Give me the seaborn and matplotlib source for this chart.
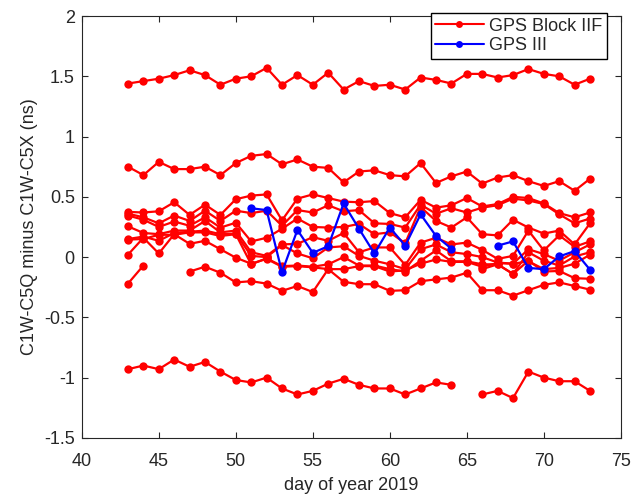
import numpy as np
import pandas as pd
import matplotlib
matplotlib.use('Agg')
import matplotlib.pyplot as plt
import seaborn as sns
from matplotlib.lines import Line2D

# days of year 2019 on the x axis
days = np.arange(43, 74)
nan = np.nan

# GPS Block IIF satellites (ns)
iif_top = [1.44, 1.46, 1.48, 1.51, 1.55, 1.51, 1.43, 1.48, 1.50, 1.57, 1.43, 1.51, 1.43, 1.53, 1.39, 1.46,
           1.42, 1.43, 1.39, 1.49, 1.47, 1.44, 1.52, 1.52, 1.49, 1.51, 1.56, 1.52, 1.50, 1.43, 1.48]
iif_2 = [0.75, 0.68, 0.79, 0.73, 0.73, 0.75, 0.68, 0.78, 0.84, 0.855, 0.77, 0.81, 0.75, 0.74, 0.62, 0.71,
         0.72, 0.68, 0.67, 0.78, 0.615, 0.67, 0.71, 0.61, 0.66, 0.68, 0.63, 0.59, 0.63, 0.55, 0.65]
iif_a = [0.375, 0.37, 0.38, 0.455, 0.35, 0.435, 0.35, 0.48, 0.51, 0.52, 0.305, 0.485, 0.52, 0.49, 0.46, 0.455,
         0.465, 0.365, 0.33, 0.475, 0.41, 0.43, 0.49, 0.42, 0.44, 0.50, 0.49, 0.445, 0.365, 0.33, 0.37]
iif_b = [0.36, 0.33, 0.28, 0.345, 0.30, 0.385, 0.30, 0.385, 0.365, 0.385, 0.26, 0.39, 0.37, 0.43, 0.38, 0.39,
         0.28, 0.275, 0.245, 0.435, 0.36, 0.405, 0.37, 0.41, 0.43, 0.485, 0.47, 0.44, 0.355, 0.28, 0.32]
iif_c = [0.345, 0.31, 0.25, 0.295, 0.26, 0.33, 0.245, 0.285, 0.13, 0.16, 0.235, 0.32, 0.25, 0.245, 0.25, 0.275,
         0.19, 0.205, 0.115, 0.415, 0.30, 0.245, 0.33, 0.19, 0.18, 0.31, 0.245, 0.195, 0.22, 0.105, 0.28]
iif_d = [0.255, 0.20, 0.19, 0.22, 0.22, 0.30, 0.205, 0.22, 0.04, 0.01, 0.105, 0.11, 0.165, 0.135, 0.20, 0.04,
         0.08, 0.08, -0.065, 0.12, 0.16, 0.105, 0.12, 0.06, -0.015, 0.01, 0.22, 0.055, 0.18, 0.085, 0.13]
iif_e = [0.15, 0.17, 0.135, 0.20, 0.21, 0.22, 0.19, 0.195, 0.01, 0.0, 0.10, 0.03, -0.01, 0.08, 0.09, 0.01,
         -0.03, -0.06, -0.10, 0.065, 0.105, 0.04, 0.025, 0.0, -0.045, -0.055, 0.065, 0.025, -0.03, 0.04, 0.105]
iif_f = [0.145, 0.15, 0.185, 0.185, 0.205, 0.205, 0.175, 0.19, -0.06, -0.01, -0.075, -0.07, -0.08, -0.06, 0.0, -0.07,
         -0.07, -0.10, -0.12, -0.03, 0.055, -0.035, -0.035, -0.06, -0.06, -0.14, 0.04, -0.03, -0.07, 0.005, 0.04]
iif_g = [0.02, 0.16, 0.03, 0.19, 0.11, 0.135, 0.065, -0.005, -0.055, -0.015, -0.08, -0.075, -0.085, -0.10, -0.10, -0.075,
         -0.075, -0.12, -0.11, -0.055, -0.02, -0.04, -0.04, -0.08, -0.05, -0.055, -0.035, -0.10, -0.09, -0.055, 0.02]
iif_h = [nan, nan, nan, nan, nan, nan, nan, nan, nan, nan, nan, nan, nan, nan, nan, nan,
         nan, nan, nan, nan, nan, nan, nan, -0.10, -0.06, -0.14, -0.03, -0.12, -0.115, -0.175, -0.18]
iif_low = [-0.22, -0.07, nan, nan, -0.12, -0.08, -0.13, -0.21, -0.20, -0.22, -0.28, -0.24, -0.29, -0.10, -0.205, -0.225,
           -0.225, -0.28, -0.275, -0.20, -0.185, -0.17, -0.13, -0.275, -0.275, -0.32, -0.275, -0.23, -0.21, -0.24, -0.27]
iif_bottom = [-0.93, -0.90, -0.93, -0.85, -0.91, -0.87, -0.95, -1.02, -1.04, -1.00, -1.09, -1.14, -1.11, -1.05, -1.01, -1.06,
              -1.09, -1.09, -1.14, -1.09, -1.04, -1.06, nan, -1.14, -1.11, -1.17, -0.95, -1.00, -1.03, -1.03, -1.11]

# GPS III satellite (ns)
gps3 = [nan, nan, nan, nan, nan, nan, nan, nan, 0.405, 0.39, -0.125, 0.225, 0.035, 0.09, 0.445, 0.235,
        0.03, 0.245, 0.095, 0.355, 0.175, 0.07, nan, nan, 0.095, 0.13, -0.09, -0.10, 0.005, 0.05, -0.105]

iif_series = [iif_top, iif_2, iif_a, iif_b, iif_c, iif_d, iif_e, iif_f, iif_g, iif_h, iif_low, iif_bottom]

# long table, split every series where a day is missing
rows = []
seg = 0
for kind, group in [('GPS Block IIF', iif_series), ('GPS III', [gps3])]:
    for vals in group:
        gap = True
        for d, v in zip(days, vals):
            if np.isnan(v):
                gap = True
                continue
            if gap:
                seg += 1
                gap = False
            rows.append({'day': d, 'value': v, 'kind': kind, 'seg': seg})
df = pd.DataFrame(rows)

colors = {'GPS Block IIF': '#ff0000', 'GPS III': '#0000ff'}

sns.set_style('ticks')
plt.rcParams['font.family'] = ['Liberation Sans', 'DejaVu Sans']

fig = plt.figure(figsize=(6.44, 5.01), dpi=100)
ax = fig.add_axes([0.127, 0.126, 0.837, 0.842])

sns.lineplot(data=df, x='day', y='value', hue='kind', units='seg', estimator=None,
             palette=colors, marker='o', markersize=6, markeredgewidth=0,
             linewidth=1.6, legend=False, ax=ax)

ax.set_xlim(40, 75)
ax.set_ylim(-1.5, 2)
ax.set_xticks(range(40, 76, 5))
yt = np.arange(-1.5, 2.01, 0.5)
ax.set_yticks(yt)
ax.set_yticklabels([f'{v:g}' for v in yt])

ax.tick_params(direction='in', top=True, right=True, length=4, width=0.8,
               labelsize=13, colors='#262626')
ax.tick_params(axis='x', pad=11)
ax.tick_params(axis='y', pad=5)
for sp in ax.spines.values():
    sp.set_visible(True)
    sp.set_color('#262626')
    sp.set_linewidth(0.8)

ax.set_xlabel('day of year 2019', fontsize=13, color='#262626', labelpad=5)
ax.set_ylabel('C1W-C5Q minus C1W-C5X (ns)', fontsize=13, color='#262626', labelpad=4)

handles = [Line2D([], [], color=c, marker='o', markersize=5, markeredgewidth=0, linewidth=1.5)
           for c in colors.values()]
ax.legend(handles, list(colors.keys()), loc='upper right',
          bbox_to_anchor=(0.9425, 0.974), bbox_transform=fig.transFigure,
          fancybox=False, edgecolor='black', framealpha=1, fontsize=13,
          handlelength=2.7, handletextpad=0.3, borderpad=0.25, labelspacing=0.15,
          borderaxespad=0)

fig.savefig('out.png', dpi=100)
